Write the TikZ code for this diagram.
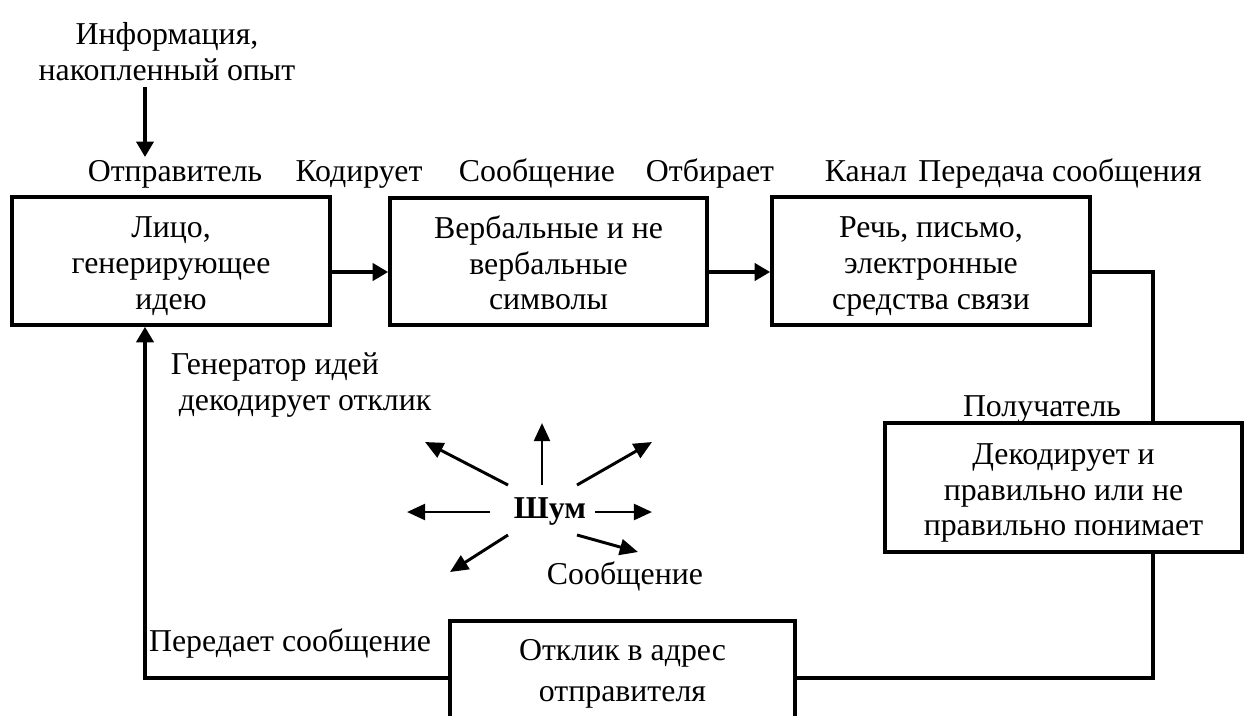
\documentclass[tikz,border=0pt]{standalone}
\usepackage{fontspec}
\setmainfont{Liberation Serif}
\usetikzlibrary{arrows.meta}
\newcommand{\boxtext}[1]{\rule{0pt}{15pt}#1\rule[-4pt]{0pt}{4pt}}
\begin{document}
\begin{tikzpicture}[x=0.44pt,y=-0.44pt,line width=1.6pt,
    font=\fontsize{14pt}{15.8pt}\selectfont]
            \tikzset{box/.style 2 args={draw, rectangle, align=center, inner sep=0pt,
                     minimum width=#1*0.44pt, minimum height=#2*0.44pt},
                     arr/.style={-{Triangle[length=6.8pt,width=7.5pt]}},
                     noisearr/.style={line width=1.3pt,-{Triangle[length=8pt,width=7pt]}},
                     lbl/.style={inner sep=0pt, align=center},
                     toplbl/.style={inner sep=0pt, anchor=base}};
            \clip (0,0) rectangle (1244,715);

            \coordinate (row) at (0,272);
            \coordinate (row2) at (0,678);
            \coordinate (rx) at (1153,0);
            \coordinate (ax) at (145,87);
            \coordinate (ay) at (145,157);

            \node[lbl] (info) at (167,52) {Информация,\\накопленный опыт};

            \node[box={318}{128}] (box1) at (171,261) {\boxtext{Лицо,\\генерирующее\\идею}};
            \node[box={317}{127}] (box2) at (548.5,261.5) {\boxtext{Вербальные и не\\вербальные\\символы}};
            \node[box={318}{128}] (box3) at (931,261) {\boxtext{Речь, письмо,\\электронные\\средства связи}};
            \node[box={357}{129}] (box4) at (1063.5,487.5) {\boxtext{Декодирует и\\правильно или не\\правильно понимает}};
            \node[box={345}{106}] (box5) at (622.5,674) {Отклик в адрес\\[2pt]отправителя};

            \node[toplbl] (sender) at (175,181) {Отправитель};
            \node[toplbl] (code) at (359,181) {Кодирует};
            \node[toplbl] (msg) at (537,181) {Сообщение};
            \node[toplbl] (pick) at (710,181) {Отбирает};
            \node[toplbl] (chan) at (866,181) {Канал};
            \node[toplbl] (trans) at (1060,181) {Передача сообщения};
            \node[toplbl] (recv) at (1042,416) {Получатель};
            \node[lbl, align=left, anchor=west] (gen) at (169,385) {Генератор идей\\\hspace*{3.5pt}декодирует отклик};
            \node[toplbl] (back) at (290,651) {Передает сообщение};
            \node[lbl] (noise) at (550,512) {\textbf{Шум}};
            \node[toplbl] (msg2) at (625,584) {Сообщение};

            \draw[arr] (ax) -- (ay);
            \draw[arr] (box1.east |- row) -- (box2.west |- row);
            \draw[arr] (box2.east |- row) -- (box3.west |- row);
            \draw (box3.east |- row) -| (box4.north -| rx);
            \draw (box4.south -| rx) |- (box5.east |- row2);
            \draw[arr] (box5.west |- row2) -| (box1.south -| ax);

            \foreach \sx/\sy/\ex/\ey in {-60/0/-143/0, 45/0/102/0, -8/-27/-8/-89,
                -42/-27/-125/-70, 27/-27/102/-70, -42/23/-100/60, 27/23/88/40}
                \draw[noisearr] ([shift={(\sx,\sy)}]noise.center) -- ([shift={(\ex,\ey)}]noise.center);
        \end{tikzpicture}
\end{document}
